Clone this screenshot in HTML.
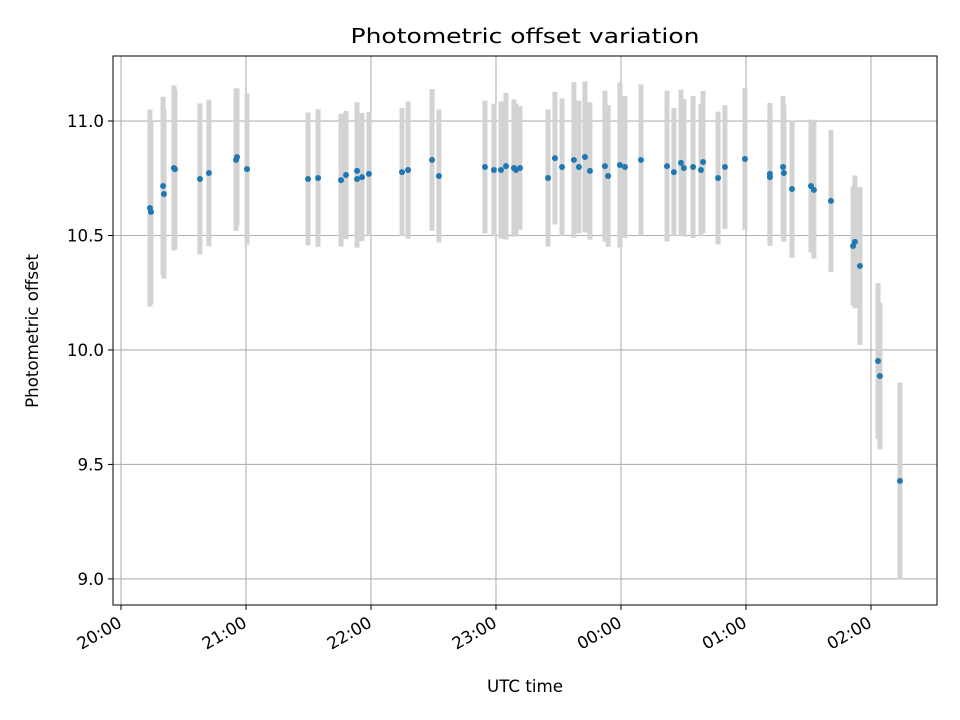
<!DOCTYPE html>
<html><head><meta charset="utf-8"><style>
html,body{margin:0;padding:0;background:#fff;}
svg{display:block;font-family:"DejaVu Sans","Liberation Sans",sans-serif;}
</style></head><body>
<svg id="chart" width="960" height="720" viewBox="0 0 960 720" xmlns="http://www.w3.org/2000/svg">
<rect x="0" y="0" width="960" height="720" fill="#fff"/>
<text x="525" y="43" font-size="20" text-anchor="middle" fill="#000" textLength="349" lengthAdjust="spacingAndGlyphs">Photometric offset variation</text>
<g id="grid"></g>
<g id="errs"></g>
<g id="pts"></g>
<rect x="113" y="56" width="824" height="549" fill="none" stroke="#000" stroke-width="1"/>
<g id="xt"></g>
<g id="yt"></g>
<text x="525" y="692" font-size="16.7" text-anchor="middle">UTC time</text>
<text x="0" y="0" font-size="16.7" text-anchor="middle" transform="translate(38,331) rotate(-90)">Photometric offset</text>
</svg>
<script>
// minutes after 20:00 UTC
const times=[13.9,14.4,20.2,20.6,25.4,25.9,37.9,42.2,55.2,55.7,60.5,89.8,94.6,105.6,108,113.3,113.3,115.7,119,134.9,137.8,149.3,152.6,174.7,179,182.4,184.8,188.6,189.6,191.5,205,208.3,211.7,217.4,219.8,222.7,225.1,232.3,233.8,239.5,241.9,249.6,262.1,265.4,268.8,270.2,274.6,278.4,279.4,286.6,289.9,299.5,311.5,311.5,317.8,318.2,322.1,331.2,332.6,340.8,351.4,352.3,354.7,363.4,364.3,373.9];
const offsets=[10.620,10.603,10.716,10.681,10.795,10.790,10.747,10.773,10.830,10.843,10.790,10.747,10.751,10.742,10.764,10.782,10.747,10.755,10.769,10.777,10.786,10.830,10.760,10.799,10.786,10.786,10.803,10.795,10.786,10.795,10.751,10.838,10.799,10.830,10.799,10.843,10.782,10.803,10.760,10.808,10.799,10.830,10.803,10.777,10.817,10.795,10.799,10.786,10.821,10.751,10.799,10.834,10.769,10.755,10.799,10.773,10.703,10.716,10.699,10.651,10.454,10.472,10.367,9.952,9.886,9.428];
const errors=[0.43,0.40,0.39,0.37,0.36,0.35,0.33,0.32,0.31,0.30,0.33,0.29,0.30,0.29,0.28,0.30,0.30,0.28,0.27,0.28,0.30,0.31,0.29,0.29,0.29,0.30,0.32,0.30,0.29,0.27,0.30,0.29,0.30,0.34,0.29,0.33,0.30,0.33,0.31,0.36,0.31,0.33,0.33,0.28,0.32,0.30,0.31,0.29,0.31,0.29,0.27,0.31,0.31,0.30,0.31,0.30,0.30,0.29,0.30,0.31,0.26,0.29,0.345,0.34,0.32,0.43];
const xTickMins=[0,60,120,180,240,300,360];
const xTickLabels=["20:00","21:00","22:00","23:00","00:00","01:00","02:00"];
const yTicks=[9.0,9.5,10.0,10.5,11.0];
const yTickLabels=["9.0","9.5","10.0","10.5","11.0"];

const L=113,R=937,T=56,B=605;
const xMin=-3.84,xMax=391.7,yMin=8.886,yMax=11.284;
const X=m=>L+(m-xMin)/(xMax-xMin)*(R-L);
const Y=v=>B-(v-yMin)/(yMax-yMin)*(B-T);
const NS="http://www.w3.org/2000/svg";
function mk(tag,attrs,parent){const e=document.createElementNS(NS,tag);for(const k in attrs)e.setAttribute(k,attrs[k]);parent.appendChild(e);return e;}
const grid=document.getElementById('grid'),errs=document.getElementById('errs'),pts=document.getElementById('pts'),xt=document.getElementById('xt'),yt=document.getElementById('yt');

xTickMins.forEach((m,i)=>{
  const x=X(m);
  const g=mk('line',{x1:x,x2:x,y1:T,y2:B,stroke:'#b0b0b0','stroke-width':1.1},grid);
  
  
  const t=mk('line',{x1:x,x2:x,y1:B,y2:B+5,stroke:'#000'},xt);
  
  
  const lb=mk('text',{x:0,y:0,'font-size':16.7,'text-anchor':'end',transform:`translate(${x+2},${B+21}) rotate(-30)`},xt);
  lb.textContent=xTickLabels[i];
  
  
});
yTicks.forEach((v,i)=>{
  const y=Y(v);
  const g=mk('line',{x1:L,x2:R,y1:y,y2:y,stroke:'#b0b0b0','stroke-width':1.1},grid);
  
  
  const t=mk('line',{x1:L-5,x2:L,y1:y,y2:y,stroke:'#000'},yt);
  
  
  const lb=mk('text',{x:L-9,y:y+6,'font-size':16.7,'text-anchor':'end'},yt);
  lb.textContent=yTickLabels[i];
  
  
});
times.forEach((m,i)=>{
  const x=X(m);
  const e=mk('line',{x1:x,x2:x,y1:Y(offsets[i]+errors[i]),y2:Y(offsets[i]-errors[i]),stroke:'#d3d3d3','stroke-width':5},errs);
  
  
});
times.forEach((m,i)=>{
  const c=mk('circle',{cx:X(m),cy:Y(offsets[i]),r:3,fill:'#1f77b4'},pts);
  
  
});
</script>
</body></html>
